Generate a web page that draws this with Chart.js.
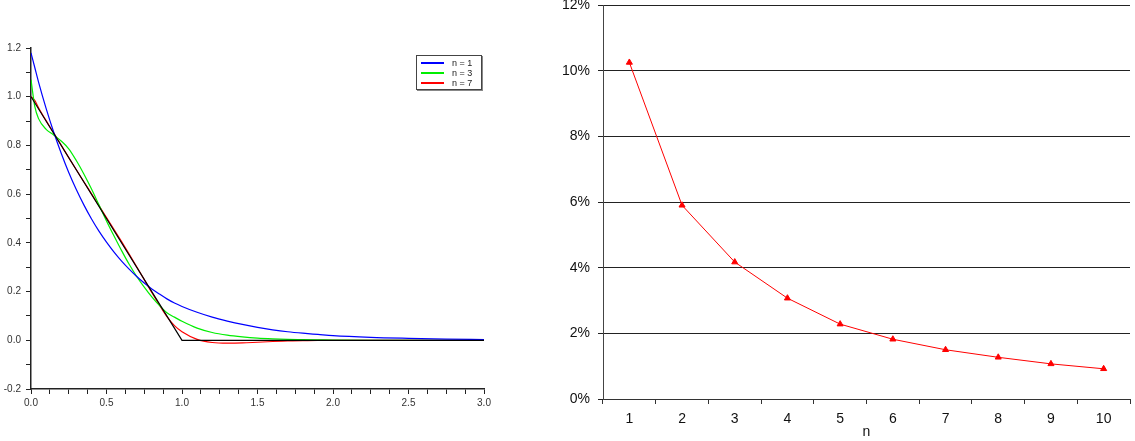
<!DOCTYPE html>
<html>
<head>
<meta charset="utf-8">
<script src="https://cdn.jsdelivr.net/npm/chart.js@4.4.1/dist/chart.umd.min.js"></script>
<style>
  body{margin:0;background:#fff;}
  #wrap{position:relative;width:1135px;height:441px;overflow:hidden;}
  #left{position:absolute;left:0;top:0;}
  #right{position:absolute;left:540px;top:0;}
  #legend{position:absolute;left:416px;top:55px;width:64px;padding:2px 0 1px 0;border:1px solid #444;
    box-shadow:1px 1px 0 #888;background:#fff;font:9px "Liberation Sans",Arial,sans-serif;color:#222;}
  #legend .row{position:relative;height:10px;line-height:10px;white-space:nowrap;padding-left:35px;}
  #legend .swatch{position:absolute;left:4px;top:4px;width:23px;height:2px;}
</style>
</head>
<body>
<div id="wrap">
  <canvas id="left" width="540" height="441"></canvas>
  <canvas id="right" width="595" height="441"></canvas>
  <div id="legend"></div>
</div>
<script>
// Left chart data
let xs=[0,0.025,0.05,0.1,0.15,0.2,0.25,0.3,0.35,0.4,0.45,0.5,0.55,0.6,0.65,0.7,0.75,0.8,0.85,0.9,0.95,1.0,
        1.1,1.2,1.3,1.4,1.5,1.6,1.7,1.8,1.9,2.0,2.25,2.5,2.75,3.0];
let n1=[1.18,1.12,1.06,0.952,0.855,0.768,0.689,0.619,0.556,0.499,0.448,0.403,0.362,0.325,0.292,0.262,0.235,0.211,0.190,0.170,0.153,0.139,
        0.115,0.095,0.079,0.065,0.053,0.043,0.035,0.029,0.024,0.019,0.012,0.008,0.005,0.003];
let n3=[1.07,0.96,0.91,0.866,0.843,0.818,0.786,0.738,0.683,0.622,0.556,0.49,0.428,0.368,0.312,0.262,0.218,0.178,0.143,0.113,0.095,0.078,
        0.05,0.032,0.021,0.014,0.009,0.006,0.004,0.003,0.002,0.001,0,0,0,0];
let n7=[1.0,0.985,0.955,0.902,0.852,0.801,0.750,0.700,0.651,0.602,0.553,0.504,0.455,0.405,0.354,0.302,0.249,0.196,0.145,0.097,0.060,0.035,
        0.004,-0.009,-0.012,-0.011,-0.008,-0.005,-0.003,-0.001,0,0,0,0,0,0];
let targetX=[0,1,3], targetY=[1,0,0];

// Right chart data
let nLabels=['1','2','3','4','5','6','7','8','9','10'];
let errPct=[10.25,5.9,4.17,3.07,2.28,1.82,1.5,1.27,1.07,0.92];

let font10={family:'"Liberation Sans", Arial, sans-serif',size:10};
let font14={family:'"Liberation Sans", Arial, sans-serif',size:14};
let pts=(xa,ya)=>xa.map((x,i)=>({x:x,y:ya[i]}));
let curve=(label,color,ys)=>({label,data:pts(xs,ys),borderColor:color,borderWidth:1.2,pointRadius:0,
  cubicInterpolationMode:'monotone',fill:false});

// Left chart
let leftChart=new Chart(document.getElementById('left'),{
  type:'line',
  data:{datasets:[
    {label:'',data:pts(targetX,targetY),borderColor:'#000000',borderWidth:1.2,pointRadius:0,tension:0,fill:false},
    curve('n = 1','#0000ff',n1),
    curve('n = 3','#00ee00',n3),
    curve('n = 7','#ff0000',n7)
  ]},
  options:{
    responsive:false, animation:false, devicePixelRatio:1,
    layout:{padding:{top:48,right:56,bottom:0,left:0}},
    plugins:{legend:{display:false},tooltip:{enabled:false}},
    scales:{
      x:{type:'linear',min:0,max:3,
        border:{display:true,color:'#222',width:1.5},
        grid:{display:true,drawOnChartArea:false,drawTicks:true,tickLength:5,color:'#222'},
        ticks:{stepSize:0.125,autoSkip:false,maxTicksLimit:100,maxRotation:0,padding:3,color:'#333',font:font10,
          callback:v=>Math.abs(Math.round(v*8)%4)===0?(Math.round(v*10)/10).toFixed(1):''},
        afterFit:s=>{s.height=52;s.paddingLeft=0;s.paddingRight=0;}},
      y:{type:'linear',min:-0.2,max:1.2,
        border:{display:true,color:'#222',width:1.5},
        grid:{display:true,drawOnChartArea:false,drawTicks:true,tickLength:5,color:'#222'},
        ticks:{stepSize:0.1,autoSkip:false,maxTicksLimit:100,padding:5,color:'#333',font:font10,
          callback:v=>Math.abs(Math.round(v*10)%2)===0?(Math.round(v*10)/10).toFixed(1):''},
        afterFit:s=>{s.width=31;s.paddingTop=0;s.paddingBottom=0;}}
    }
  }
});

// Legend box (only the labelled curves)
let legend=document.getElementById('legend');
leftChart.data.datasets.filter(d=>d.label).forEach(d=>{
  let row=document.createElement('div'); row.className='row';
  let sw=document.createElement('div'); sw.className='swatch'; sw.style.backgroundColor=d.borderColor;
  row.appendChild(sw); row.appendChild(document.createTextNode(d.label));
  legend.appendChild(row);
});

// Right chart
new Chart(document.getElementById('right'),{
  type:'line',
  data:{labels:nLabels,datasets:[{label:'error',data:errPct,borderColor:'#ff0000',backgroundColor:'#ff0000',
    borderWidth:1,pointStyle:'triangle',pointRadius:3.5,pointBorderWidth:1,tension:0,fill:false}]},
  options:{
    responsive:false, animation:false, devicePixelRatio:1,
    layout:{padding:{top:5,right:0,bottom:0,left:0}},
    plugins:{legend:{display:false},tooltip:{enabled:false}},
    scales:{
      x:{type:'category',offset:true,
        border:{display:true,color:'#333',width:1},
        grid:{display:true,offset:true,drawOnChartArea:false,drawTicks:true,tickLength:5,color:'#333'},
        ticks:{autoSkip:false,maxRotation:0,padding:7,color:'#111',font:font14},
        title:{display:true,text:'n',color:'#111',font:font14,padding:{top:0,bottom:0}},
        afterFit:s=>{s.height=42;s.paddingLeft=0;s.paddingRight=0;}},
      y:{min:0,max:12,
        border:{display:true,color:'#444',width:1},
        grid:{display:true,drawTicks:true,tickLength:5,color:'#222',lineWidth:1},
        ticks:{stepSize:2,padding:8,color:'#111',font:font14,callback:v=>v+'%'},
        afterFit:s=>{s.width=63;s.paddingTop=0;s.paddingBottom=0;}}
    }
  }
});
</script>
</body>
</html>
